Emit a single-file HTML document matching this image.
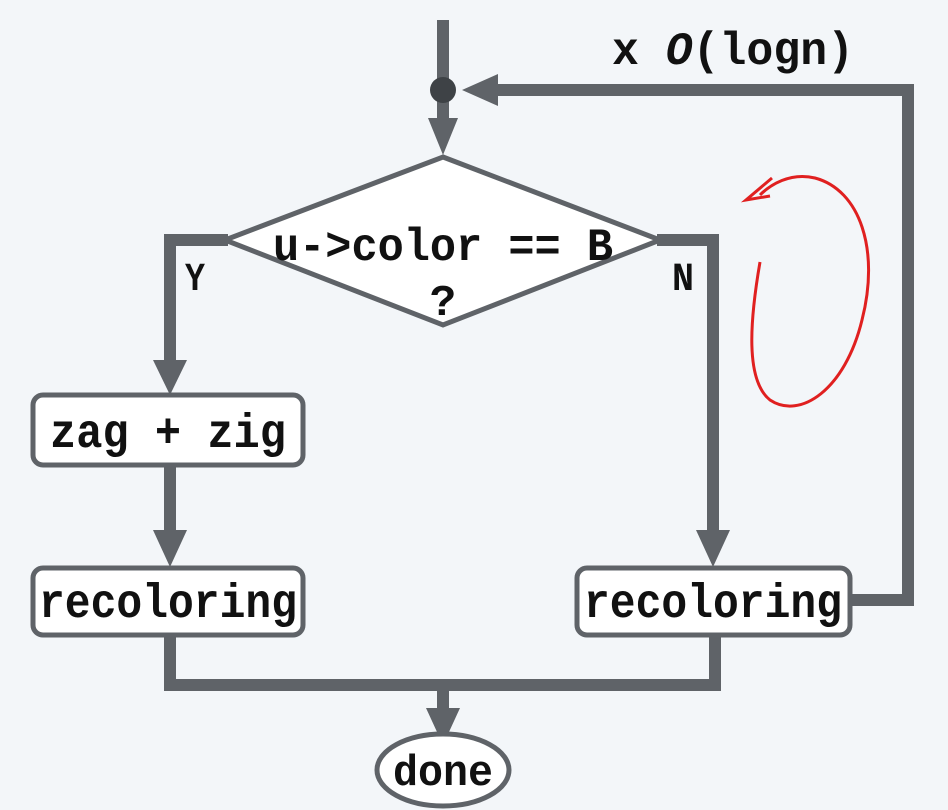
<!DOCTYPE html>
<html><head><meta charset="utf-8"><style>
html,body{margin:0;padding:0;background:#f3f6f9;}
svg{display:block}
text{font-family:"Liberation Mono",monospace;font-weight:bold;fill:#111;}
</style></head><body>
<svg width="948" height="810" viewBox="0 0 948 810">
<rect width="948" height="810" fill="#f3f6f9"/>
<g stroke="#5f6368" stroke-width="12" fill="none">
  <line x1="443" y1="20" x2="443" y2="120"/>
  <polyline points="850,600 908,600 908,90 490,90"/>
  <polyline points="228,240 170,240 170,365"/>
  <polyline points="657,240 713,240 713,535"/>
  <line x1="170" y1="465" x2="170" y2="535"/>
  <polyline points="170,635 170,685 715,685 715,635"/>
  <line x1="443" y1="685" x2="443" y2="715"/>
</g>
<g fill="#5f6368">
  <circle cx="443" cy="90" r="13" fill="#3e4246"/>
  <polygon points="428,118 458,118 443,155"/>
  <polygon points="462,90 498,74 498,106"/>
  <polygon points="153,360 187,360 170,395"/>
  <polygon points="153,530 187,530 170,567"/>
  <polygon points="696,530 730,530 713,567"/>
  <polygon points="426,708 460,708 443,745"/>
</g>
<polygon points="443,157 660,240 443,325 225,240" fill="#fff" stroke="#5f6368" stroke-width="5"/>
<text x="443" y="260" font-size="46" text-anchor="middle" textLength="340" lengthAdjust="spacingAndGlyphs">u-&gt;color == B</text>
<text x="443" y="315" font-size="44" text-anchor="middle">?</text>
<text x="195" y="290" font-size="40" text-anchor="middle" textLength="20" lengthAdjust="spacingAndGlyphs">Y</text>
<text x="683" y="290" font-size="40" text-anchor="middle" textLength="22" lengthAdjust="spacingAndGlyphs">N</text>
<rect x="33" y="395" width="270" height="70" rx="10" fill="#fff" stroke="#5f6368" stroke-width="5"/>
<text x="168" y="447" font-size="48" text-anchor="middle" textLength="236" lengthAdjust="spacingAndGlyphs">zag + zig</text>
<rect x="33" y="568" width="270" height="67" rx="10" fill="#fff" stroke="#5f6368" stroke-width="5"/>
<text x="168" y="617" font-size="48" text-anchor="middle" textLength="258" lengthAdjust="spacingAndGlyphs">recoloring</text>
<rect x="577" y="568" width="273" height="67" rx="10" fill="#fff" stroke="#5f6368" stroke-width="5"/>
<text x="713" y="617" font-size="48" text-anchor="middle" textLength="258" lengthAdjust="spacingAndGlyphs">recoloring</text>
<ellipse cx="443" cy="770" rx="66" ry="36" fill="#fff" stroke="#5f6368" stroke-width="5"/>
<text x="443" y="785" font-size="44" text-anchor="middle" textLength="100" lengthAdjust="spacingAndGlyphs">done</text>
<text x="612" y="64" font-size="46" textLength="242" lengthAdjust="spacingAndGlyphs">x <tspan font-style="italic">O</tspan>(logn)</text>
<path d="M760,262 C750,320 745,380 770,400 C800,420 845,390 862,320 C880,250 860,190 815,178 C790,172 770,185 760,195" fill="none" stroke="#e02020" stroke-width="3"/>
<path d="M772,178 L746,200 L770,196" fill="none" stroke="#e02020" stroke-width="3"/>
</svg>
</body></html>
